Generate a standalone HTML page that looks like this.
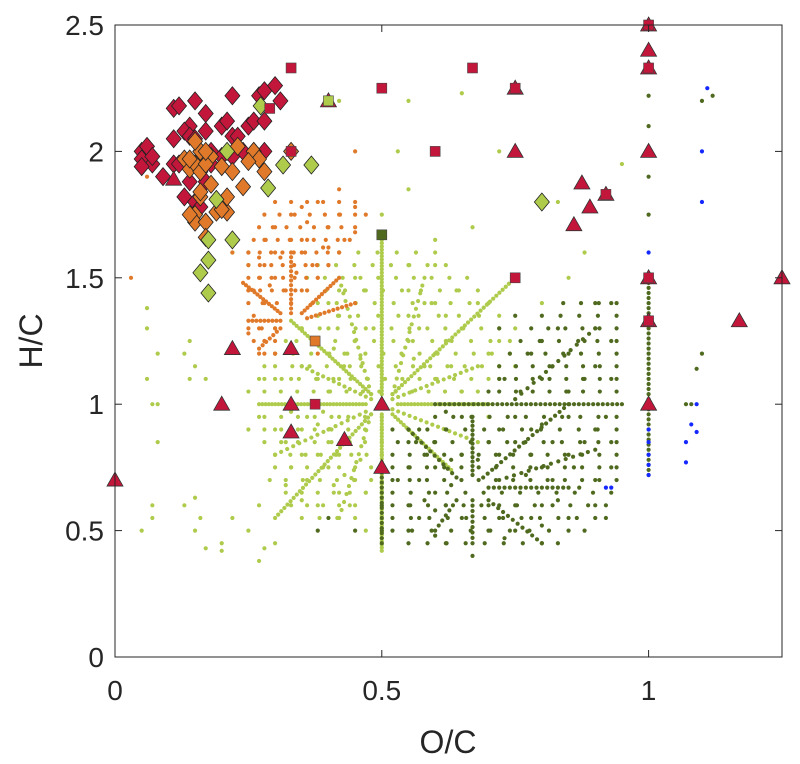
<!DOCTYPE html>
<html><head><meta charset="utf-8"><style>
html,body{margin:0;padding:0;background:#fff;}
svg{display:block;font-family:"Liberation Sans",Arial,sans-serif;}
</style></head><body>
<svg id="chart" width="800" height="764" viewBox="0 0 800 764">
<rect x="0" y="0" width="800" height="764" fill="#fff"/>
<g id="marks"></g>
<g id="axes"></g>
</svg>
<script>
const xTicks=[0,0.5,1];
const xTickLabels=["0","0.5","1"];
const yTicks=[0,0.5,1,1.5,2,2.5];
const yTickLabels=["0","0.5","1","1.5","2","2.5"];
const lightCloud="0.3,1.3 0.32,1.25 0.35,1.3 0.38,1.35 0.4,1.4 0.42,1.45 0.45,1.5 0.45,1.4 0.42,1.35 0.4,1.3 0.43,1.2 0.45,1.25 0.47,1.3 0.47,1.45 0.55,1.45 0.55,1.35 0.57,1.3 0.6,1.4 0.6,1.2 0.62,1.25 0.65,1.3 0.55,1.25 0.58,1.15 0.6,1.1 0.63,1.15 0.65,1.05 0.7,1.2 0.72,1.25 0.75,1.3 0.8,1.4 0.85,1.5 0.6,1.55 0.6,1.65 0.67,1.7 0.88,1.6 0.3,0.9 0.32,0.85 0.35,0.9 0.38,0.92 0.4,0.9 0.42,0.95 0.3,0.8 0.35,0.8 0.38,0.8 0.4,0.85 0.33,0.75 0.36,0.7 0.4,0.75 0.42,0.8 0.44,0.85 0.45,0.7 0.42,0.65 0.38,0.6 0.35,0.62 0.44,0.6 0.47,0.65 0.47,0.5 0.25,0.9 0.27,0.95 0.25,1.05 0.27,1.1 0.3,1.1 0.33,1.1 0.35,1.15 0.38,1.1 0.4,1.05 0.42,1.1 0.28,1.15 0.5,1.75 0.55,1.85 0.55,1.55 0.7,0.95 0.72,1.1 0.75,1.15 0.3,0.45 0.25,0.5 0.22,0.55 0.2,0.45 0.17,0.43 0.15,0.5 0.15,0.63 0.13,0.6 0.05,0.5 0.07,0.55 0.16,0.55 0.2,0.42 0.27,0.38 0.28,0.43 0.07,0.6 0.08,0.85 0.07,1.0 0.08,1.0 0.06,1.1 0.06,1.3 0.06,1.38 0.08,1.2 0.13,1.2 0.14,1.1 0.17,1.1 0.14,1.25 0.15,1.15 0.25,1.55 0.22,1.6 0.55,2.2 0.65,2.23 0.53,2.0 0.83,1.8 0.72,2.0 0.95,1.95 0.42,2.2 0.37,1.25 0.41,1.22 0.44,1.15 0.46,1.18 0.56,1.18 0.58,1.4 0.62,1.35 0.64,1.45 0.68,1.4 0.36,0.95 0.39,0.97 0.33,0.97 0.43,0.72 0.46,0.78 0.41,0.68 0.32,0.68 0.29,0.7 0.27,0.6";
const darkCloud="0.55,0.85 0.58,0.8 0.6,0.85 0.62,0.9 0.6,0.75 0.63,0.78 0.65,0.8 0.55,0.75 0.57,0.7 0.6,0.65 0.55,0.6 0.57,0.55 0.6,0.58 0.62,0.6 0.65,0.55 0.7,0.6 0.72,0.55 0.75,0.6 0.78,0.55 0.7,0.5 0.73,0.47 0.75,0.5 0.8,0.6 0.83,0.62 0.85,0.55 0.9,0.6 0.87,0.67 0.9,0.7 0.93,0.75 0.72,0.8 0.75,0.85 0.78,0.8 0.8,0.75 0.82,0.85 0.85,0.8 0.88,0.85 0.9,0.9 0.93,0.85 0.72,0.9 0.75,0.95 0.78,0.9 0.8,0.92 0.85,0.95 0.92,0.95 0.7,1.05 0.73,1.1 0.76,1.05 0.8,1.1 0.82,1.15 0.85,1.05 0.88,1.1 0.9,1.15 0.93,1.1 0.85,1.2 0.88,1.25 0.9,1.3 0.93,1.25 0.83,1.3 0.8,1.25 0.78,1.2 0.9,1.4 0.93,1.4 0.72,1.3 0.75,1.35 0.62,0.45 0.6,0.48 0.5,0.5 0.45,0.5 0.55,0.5 0.67,0.4 0.83,0.45 0.53,0.7 0.57,0.9 0.65,0.95 0.62,0.97 0.52,0.9 0.4,0.55 0.38,0.5 0.5,0.6 0.58,0.62 0.63,0.68 0.68,0.78 0.7,0.85 0.77,0.72 0.82,0.7 0.86,0.75 0.8,0.52 0.88,0.5 0.92,0.55 1.0,2.22 1.0,2.1 1.0,1.9 1.0,1.75 1.1,2.2 1.12,2.22 1.1,1.2 1.09,1.14 1.08,1.0 1.07,1.0";
const orangeCloud="0.25,1.45 0.27,1.5 0.28,1.55 0.3,1.6 0.33,1.65 0.35,1.6 0.37,1.55 0.38,1.5 0.4,1.55 0.42,1.6 0.3,1.5 0.32,1.45 0.35,1.45 0.37,1.4 0.28,1.4 0.26,1.35 0.27,1.3 0.25,1.28 0.28,1.25 0.3,1.2 0.27,1.2 0.26,1.45 0.3,1.7 0.33,1.75 0.36,1.72 0.4,1.7 0.45,1.68 0.28,1.65 0.35,1.78 0.38,1.8 0.42,1.75 0.45,1.78 0.43,1.65 0.31,1.58 0.39,1.62 0.25,1.6 0.22,1.6 0.03,1.5 0.06,1.9 0.17,1.45 0.47,1.75 0.42,1.85 0.45,2.0 0.38,1.2 0.29,1.47 0.34,1.52 0.36,1.65 0.4,1.62 0.27,1.58";
const blueCloud="1.11,2.25 1.1,2.0 1.1,1.8 1.0,1.6 1.09,1.0 1.07,0.85 1.08,0.92 1.07,0.77 1.0,0.9 1.0,0.85 1.0,0.8 1.0,0.76 1.0,0.72 0.93,0.67 0.92,0.67 1.09,0.89";
// rays of formula series: x1,y1,x2,y2,count
const lightRays=[[0.27,1,0.47,1,34],[0.53,1,0.7,1,28],[0.5,0.42,0.5,0.96,44],[0.5,1.04,0.5,1.65,48],[0.33,1.33,0.48,1.04,30],[0.52,0.96,0.63,0.74,22],[0.52,1.04,0.75,1.5,40],[0.48,0.96,0.3,0.55,32],[0.47,0.97,0.3,0.8,16],[0.48,1.02,0.35,1.15,14],[0.52,0.98,0.68,0.85,16],[0.52,1.02,0.68,1.15,16],[0.48,1.04,0.42,1.5,16],[0.52,1.04,0.58,1.5,16],[0.48,0.96,0.42,0.55,14]];
const darkRays=[[0.6,1,0.95,1,40],[0.7,0.62,0.8,0.45,12],[0.69,0.71,0.85,1.0,20],[0.64,0.62,0.6,0.5,7],[0.67,0.72,0.67,0.95,14],[0.67,0.62,0.67,0.45,9],[0.7,0.67,0.85,0.67,16],[1,0.72,1,1.5,40],[0.5,0.45,0.5,0.75,16],[0.72,0.7,0.9,0.82,14],[0.64,0.71,0.55,0.9,12],[0.75,1.02,0.9,1.3,14]];
const orangeRays=[[0.31,1.36,0.24,1.48,14],[0.31,1.33,0.25,1.33,9],[0.31,1.3,0.27,1.22,7],[0.33,1.36,0.33,1.6,14],[0.35,1.36,0.42,1.5,14],[0.36,1.34,0.45,1.4,12]];
// lattice rows of formulas: H/C, O/C start, O/C end, count
const lightRows=[[1.6,0.42,0.6,6],[1.55,0.38,0.62,8],[1.5,0.36,0.66,10],[1.45,0.36,0.68,10],[1.4,0.38,0.7,10],[1.35,0.38,0.72,10],[1.3,0.35,0.72,12],[1.25,0.34,0.74,12],[1.2,0.3,0.74,14],[1.15,0.3,0.72,14],[1.1,0.28,0.7,14],[1.05,0.28,0.68,14],[0.95,0.28,0.5,8],[0.9,0.28,0.5,8],[0.85,0.28,0.5,8],[0.8,0.3,0.5,8],[0.75,0.3,0.48,7],[0.7,0.32,0.48,6],[0.65,0.32,0.47,6],[0.6,0.33,0.45,5],[0.55,0.35,0.45,4]];
const darkRows=[[0.45,0.55,0.8,8],[0.5,0.52,0.85,10],[0.55,0.52,0.9,12],[0.6,0.52,0.92,13],[0.65,0.52,0.93,13],[0.7,0.52,0.94,14],[0.75,0.52,0.94,14],[0.8,0.52,0.94,14],[0.85,0.53,0.94,13],[0.9,0.55,0.94,12],[0.95,0.6,0.94,11],[1.05,0.72,0.94,8],[1.1,0.72,0.94,8],[1.15,0.72,0.94,8],[1.2,0.74,0.94,7],[1.25,0.76,0.94,6],[1.3,0.78,0.94,6],[1.35,0.8,0.94,5],[1.4,0.84,0.94,4]];
const orangeRows=[[1.8,0.3,0.45,6],[1.75,0.28,0.45,7],[1.7,0.27,0.45,8],[1.65,0.26,0.44,9],[1.6,0.25,0.42,9],[1.55,0.25,0.4,8],[1.5,0.25,0.38,7],[1.45,0.25,0.36,6],[1.4,0.25,0.33,4],[1.3,0.25,0.3,3],[1.25,0.26,0.3,3],[1.2,0.28,0.3,2]];
const redDiamonds="0.05,2.0 0.05,1.97 0.06,2.02 0.07,1.95 0.05,1.94 0.09,1.9 0.11,2.17 0.12,2.18 0.14,2.1 0.11,2.05 0.13,2.08 0.14,2.06 0.15,2.05 0.17,2.08 0.17,2.15 0.22,2.22 0.2,2.1 0.21,2.12 0.22,2.06 0.23,2.06 0.25,2.1 0.26,2.12 0.28,2.12 0.27,2.22 0.28,2.24 0.3,2.26 0.31,2.2 0.15,2.2 0.11,1.95 0.12,1.95 0.14,1.88 0.17,1.88 0.13,1.82 0.15,1.8 0.18,1.95 0.2,1.98 0.22,1.98 0.24,2.0 0.26,2.0 0.14,1.96 0.16,2.0 0.18,2.0 0.28,2.0 0.07,1.98 0.16,1.78 0.17,1.96";
const orangeDiamonds="0.13,1.97 0.14,1.93 0.15,1.95 0.16,1.92 0.14,1.97 0.16,2.0 0.18,1.98 0.17,1.95 0.2,1.94 0.22,1.92 0.26,2.0 0.33,2.0 0.27,1.97 0.17,2.0 0.24,1.86 0.18,1.87 0.16,1.82 0.15,1.75 0.15,1.72 0.17,1.72 0.19,1.76 0.21,1.76 0.14,1.75 0.2,1.77 0.21,1.82 0.17,1.66 0.16,1.84 0.23,2.02 0.15,2.04 0.25,1.96 0.28,1.92";
const greenDiamonds="0.368,1.946 0.315,1.946 0.287,1.855 0.273,2.18 0.21,2.0 0.19,1.81 0.175,1.65 0.22,1.65 0.175,1.57 0.16,1.52 0.175,1.44 0.8,1.8";
const redTriangles="0,0.7 0.2,1.0 0.22,1.22 0.33,1.22 0.33,1.0 0.33,0.89 0.43,0.86 0.5,1.0 0.5,0.75 0.75,2.25 0.75,2.0 0.86,1.71 0.89,1.78 0.875,1.875 0.92,1.83 1,2.5 1,2.4 1,2.33 1,2.0 1,1.5 1,1.33 1,1.0 1.17,1.33 1.25,1.5 0.11,1.89 0.4,2.2";
const redSquares="0.33,2.33 0.5,2.25 0.67,2.33 0.6,2.0 0.75,1.5 0.375,1.0 0.33,2.0 0.29,2.17 0.75,2.25 1,2.5 1,2.33 1,1.5 1,1.33 0.92,1.83";
const orangeSquares="0.375,1.25";
const darkSquares="0.5,1.67";
const lightSquares="0.4,2.2";

const X0=115,X1=782,Y0=657,Y1=25,XMAX=1.25,YMAX=2.5;
function sx(v){return X0+v/XMAX*(X1-X0);}
function sy(v){return Y0-v/YMAX*(Y0-Y1);}
function parse(s){return s.trim().split(/\s+/).map(p=>p.split(',').map(Number));}
const NS="http://www.w3.org/2000/svg";
const marks=document.getElementById('marks'),axes=document.getElementById('axes');
function mk(tag,attrs,parent){const e=document.createElementNS(NS,tag);for(const k in attrs)e.setAttribute(k,attrs[k]);parent.appendChild(e);return e;}
function dots(list,color,name,r){list.forEach(p=>{const c=mk('circle',{cx:sx(p[0]),cy:sy(p[1]),r:r||2.1,fill:color},marks);

});}
function rays(list,color,name){list.forEach(rw=>{const pts=[];for(let i=0;i<rw[4];i++){const t=rw[4]>1?i/(rw[4]-1):0;pts.push([rw[0]+(rw[2]-rw[0])*t,rw[1]+(rw[3]-rw[1])*t]);}dots(pts,color,name);});}
function rows(list,color,name){list.forEach(rw=>{const pts=[];for(let i=0;i<rw[3];i++){const t=rw[3]>1?i/(rw[3]-1):0;pts.push([rw[1]+(rw[2]-rw[1])*t,rw[0]]);}dots(pts,color,name);});}
const LG="#aecb4c",DG="#4f6a1f",OR="#e07a2a",RD="#c3163b",BL="#1428ff";
dots(parse(lightCloud),LG,'light-green-point');rows(lightRows,LG,'light-green-point');rays(lightRays,LG,'light-green-point');
dots(parse(orangeCloud),OR,'orange-point');rows(orangeRows,OR,'orange-point');rays(orangeRays,OR,'orange-point');
dots(parse(darkCloud),DG,'dark-green-point');rows(darkRows,DG,'dark-green-point');rays(darkRays,DG,'dark-green-point');
dots(parse(blueCloud),BL,'blue-point');
function diamonds(s,color,name){parse(s).forEach(p=>{const x=sx(p[0]),y=sy(p[1]);const e=mk('polygon',{points:`${x},${y-9} ${x+7.5},${y} ${x},${y+9} ${x-7.5},${y}`,fill:color,stroke:'#222','stroke-width':0.8},marks);

});}
diamonds(redDiamonds,RD,'red-diamond');diamonds(orangeDiamonds,OR,'orange-diamond');diamonds(greenDiamonds,LG,'green-diamond');
parse(redTriangles).forEach(p=>{const x=sx(p[0]),y=sy(p[1]);const e=mk('polygon',{points:`${x},${y-8} ${x+8},${y+6} ${x-8},${y+6}`,fill:RD,stroke:'#333','stroke-width':0.8},marks);

});
function squares(s,color,name){parse(s).forEach(p=>{const x=sx(p[0]),y=sy(p[1]);const e=mk('rect',{x:x-5,y:y-5,width:10,height:10,fill:color,stroke:'#444','stroke-width':0.6},marks);

});}
squares(redSquares,RD,'red-square');squares(orangeSquares,OR,'orange-square');squares(darkSquares,DG,'dark-green-square');squares(lightSquares,LG,'light-green-square');
const box=mk('rect',{x:X0,y:Y1,width:X1-X0,height:Y0-Y1,fill:'none',stroke:'#262626','stroke-width':1},axes);


xTicks.forEach((v,i)=>{const x=sx(v);mk('line',{x1:x,y1:Y0,x2:x,y2:Y0-7,stroke:'#262626'},axes);mk('line',{x1:x,y1:Y1,x2:x,y2:Y1+7,stroke:'#262626'},axes);
const t=mk('text',{x:x,y:Y0+43,'text-anchor':'middle','font-size':28,fill:'#262626'},axes);t.textContent=xTickLabels[i];

});
yTicks.forEach((v,i)=>{const y=sy(v);mk('line',{x1:X0,y1:y,x2:X0+7,y2:y,stroke:'#262626'},axes);mk('line',{x1:X1,y1:y,x2:X1-7,y2:y,stroke:'#262626'},axes);
const t=mk('text',{x:X0-11,y:y+10,'text-anchor':'end','font-size':28,fill:'#262626'},axes);t.textContent=yTickLabels[i];

});
const xt=mk('text',{x:448,y:753,'text-anchor':'middle','font-size':32,fill:'#262626'},axes);xt.textContent='O/C';


const yt=mk('text',{x:0,y:0,'text-anchor':'middle','font-size':32,fill:'#262626',transform:'translate(42,341) rotate(-90)'},axes);yt.textContent='H/C';


</script>
</body></html>
